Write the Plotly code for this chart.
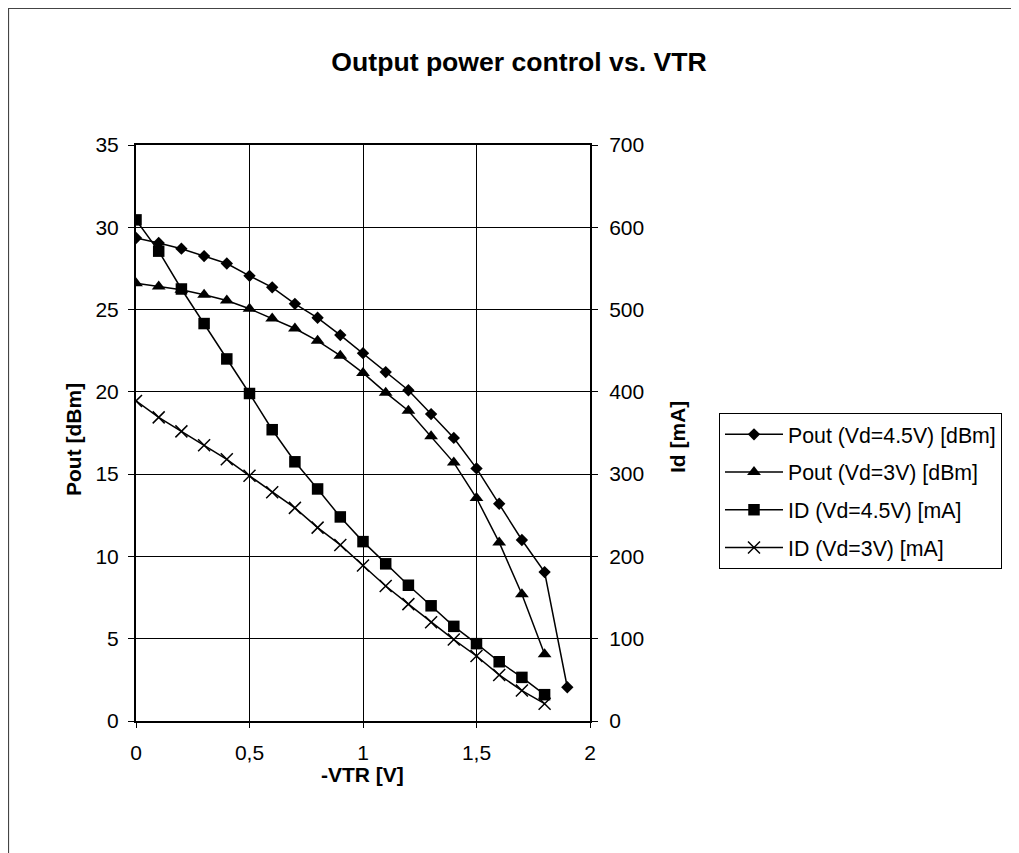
import plotly.graph_objects as go

vtr = [0, 0.1, 0.2, 0.3, 0.4, 0.5, 0.6, 0.7, 0.8, 0.9, 1.0, 1.1, 1.2, 1.3, 1.4, 1.5, 1.6, 1.7, 1.8, 1.9]
pout_45 = [29.35, 29.05, 28.7, 28.25, 27.8, 27.05, 26.35, 25.35, 24.5, 23.45, 22.35, 21.2, 20.1, 18.65, 17.2, 15.35, 13.2, 11.0, 9.05, 2.05]
pout_3 = [26.6, 26.4, 26.2, 25.9, 25.55, 25.05, 24.45, 23.85, 23.1, 22.2, 21.15, 19.95, 18.85, 17.3, 15.7, 13.55, 10.85, 7.7, 4.05]
id_45 = [609, 571, 525, 483, 440, 398, 354, 315, 282, 248, 218, 191, 165, 140, 115, 94, 72, 53, 32]
id_3 = [389, 369, 352, 335, 318, 298, 278, 259, 235, 214, 189, 164, 142, 120, 99, 79, 56, 37, 21]

names = ["Pout (Vd=4.5V) [dBm]", "Pout (Vd=3V) [dBm]", "ID (Vd=4.5V) [mA]", "ID (Vd=3V) [mA]"]

OFF = 8  # page body margin
W, H = 1019 - OFF, 853 - OFF
L, R, T, B = 136 - OFF, 590 - OFF, 145 - OFF, 721 - OFF
pw, ph = R - L, B - T

def px(x):
    return (x - OFF - L) / pw

def py(y):
    return (B - (y - OFF)) / ph

FONT = "Liberation Sans, Arial, sans-serif"
fig = go.Figure()
line = dict(color="black", width=1.5)
fig.add_trace(go.Scatter(x=vtr[:len(pout_45)], y=pout_45, name=names[0], mode="lines+markers",
                         line=line, marker=dict(symbol="diamond", size=9.5, color="black"), legendgroup="a"))
fig.add_trace(go.Scatter(x=vtr[:len(pout_3)], y=pout_3, name=names[1], mode="lines+markers",
                         line=line, marker=dict(symbol="triangle-up", size=12, color="black"), legendgroup="b"))
fig.add_trace(go.Scatter(x=vtr[:len(id_45)], y=id_45, name=names[2], mode="lines+markers", yaxis="y2",
                         line=line, marker=dict(symbol="square", size=11.5, color="black"), legendgroup="c"))
fig.add_trace(go.Scatter(x=vtr[:len(id_3)], y=id_3, name=names[3], mode="lines+markers", yaxis="y2",
                         line=line, marker=dict(symbol="x-thin-open", size=12, color="black",
                                                line=dict(color="black", width=1.5)), legendgroup="d"))

fig.update_layout(
    width=W, height=H,
    margin=dict(l=L, r=W - R, t=T, b=H - B, autoexpand=False),
    paper_bgcolor="white", plot_bgcolor="white",
    separators=", ",
    font=dict(family=FONT, size=21, color="black"),
    title=dict(text="<b>Output power control vs. VTR</b>", x=(519 - OFF) / W, xanchor="center",
               y=1 - (62 - OFF) / H, yanchor="middle", font=dict(size=26.6, family=FONT, color="black")),
    xaxis=dict(range=[0, 2], dtick=0.5, tick0=0, showgrid=True, gridcolor="black", gridwidth=1,
               showline=True, linecolor="black", linewidth=2, mirror=True,
               ticks="outside", ticklen=5, tickcolor="black", zeroline=False, ticklabelstandoff=7,
               tickfont=dict(size=21, family=FONT)),
    yaxis=dict(range=[0, 35], dtick=5, tick0=0, showgrid=True, gridcolor="black", gridwidth=1,
               showline=True, linecolor="black", linewidth=2, mirror=True,
               ticks="outside", ticklen=6, tickcolor="black", zeroline=False, ticklabelstandoff=5,
               tickfont=dict(size=21, family=FONT)),
    yaxis2=dict(range=[0, 700], dtick=100, tick0=0, overlaying="y", side="right", showgrid=False,
                showline=True, linecolor="black", linewidth=2,
                ticks="outside", ticklen=6, tickcolor="black", zeroline=False, ticklabelstandoff=7,
                tickfont=dict(size=21, family=FONT)),
    legend=dict(x=px(719), y=py(413), xanchor="left", yanchor="top",
                bordercolor="black", borderwidth=1, bgcolor="white",
                font=dict(size=21.3, family=FONT), tracegroupgap=7, itemwidth=58),
    shapes=[dict(type="rect", xref="paper", yref="paper", x0=px(8.5), x1=px(1100), y0=py(900), y1=py(8.5),
                 line=dict(color="#444", width=1.2), fillcolor="rgba(0,0,0,0)", layer="below")],
    annotations=[
        dict(text="<b>Pout [dBm]</b>", xref="paper", yref="paper", x=px(73), y=py(440), textangle=-90,
             showarrow=False, xanchor="center", yanchor="middle", font=dict(size=21, family=FONT)),
        dict(text="<b>Id [mA]</b>", xref="paper", yref="paper", x=px(677), y=py(437), textangle=-90,
             showarrow=False, xanchor="center", yanchor="middle", font=dict(size=21, family=FONT)),
        dict(text="<b>-VTR [V]</b>", xref="paper", yref="paper", x=px(362), y=py(774),
             showarrow=False, xanchor="center", yanchor="middle", font=dict(size=21, family=FONT)),
    ],
)

fig.write_html("out.html")
